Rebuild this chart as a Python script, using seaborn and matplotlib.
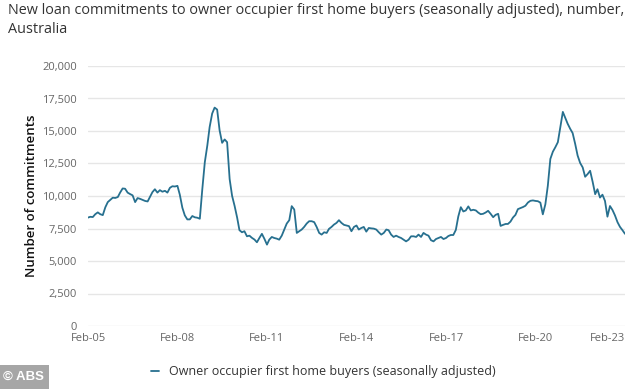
import pandas as pd
import seaborn as sns
import matplotlib.pyplot as plt
import matplotlib.dates as mdates
from matplotlib.ticker import FuncFormatter

# monthly values, Feb-05 to Feb-23
commitments = [
    8340, 8400, 8380, 8600, 8740, 8600, 8530, 9130, 9530, 9700, 9870,
    9850, 9920, 10260, 10580, 10560, 10260, 10150, 10050, 9530, 9840, 9780,
    9700, 9620, 9580, 9920, 10300, 10520, 10260, 10450, 10330, 10400, 10260,
    10630, 10750, 10730, 10780, 10100, 9100, 8510, 8200, 8200, 8460, 8360,
    8330, 8250, 10500, 12600, 13900, 15300, 16340, 16800, 16650, 15050, 14090,
    14350, 14140, 11300, 10010, 9230, 8330, 7370, 7210, 7290, 6900, 6950,
    6780, 6650, 6440, 6780, 7090, 6700, 6260, 6640, 6850, 6770, 6720,
    6640, 6950, 7420, 7880, 8140, 9220, 8960, 7160, 7290, 7420, 7620,
    7880, 8060, 8060, 7990, 7620, 7160, 7030, 7210, 7160, 7470, 7620,
    7800, 7930, 8140, 7930, 7780, 7730, 7680, 7290, 7620, 7730, 7420,
    7540, 7620, 7260, 7540, 7510, 7490, 7420, 7210, 7030, 7160, 7420,
    7370, 7030, 6850, 6950, 6850, 6770, 6640, 6510, 6640, 6900, 6900,
    6850, 7030, 6850, 7160, 7030, 6950, 6600, 6510, 6690, 6770, 6850,
    6690, 6770, 6920, 7000, 7000, 7390, 8420, 9140, 8810, 8890, 9200,
    8890, 8940, 8890, 8730, 8600, 8630, 8730, 8860, 8630, 8370, 8550,
    8630, 7700, 7780, 7850, 7850, 8030, 8340, 8550, 8990, 9070, 9150,
    9250, 9500, 9630, 9660, 9620, 9600, 9490, 8590, 9360, 10780, 12850,
    13410, 13750, 14140, 15300, 16470, 16000, 15560, 15170, 14840, 14010, 13110,
    12540, 12200, 11480, 11690, 11940, 11090, 10140, 10520, 9880, 10100, 9620,
    8410, 9230, 8920, 8510, 7990, 7630, 7370, 7090,
]
months = pd.date_range('2005-02-01', periods=len(commitments), freq='MS')
df = pd.DataFrame({'month': months, 'commitments': commitments})

tick_dates = pd.to_datetime(['2005-02-01', '2008-02-01', '2011-02-01', '2014-02-01',
                             '2017-02-01', '2020-02-01', '2023-02-01'])
y_ticks = [0, 2500, 5000, 7500, 10000, 12500, 15000, 17500, 20000]

sns.set_style('white')
plt.rcParams['font.family'] = ['Open Sans', 'DejaVu Sans']

W, H = 634, 390
fig = plt.figure(figsize=(W / 100, H / 100), dpi=100)
ax = fig.add_axes([88 / W, 1 - 326 / H, (625 - 88) / W, (326 - 66) / H])

sns.lineplot(data=df, x='month', y='commitments', ax=ax, color='#27708f',
             linewidth=1.3, label='Owner occupier first home buyers (seasonally adjusted)')

ax.set_xlim(months[0], months[-1])
ax.set_ylim(0, 20000)
ax.set_yticks(y_ticks)
ax.yaxis.set_major_formatter(FuncFormatter(lambda v, p: f'{int(v):,}'))
ax.set_xticks(tick_dates)
ax.xaxis.set_major_formatter(mdates.DateFormatter('%b-%y'))
ax.grid(axis='y', color='#e6e6e6', linewidth=1)
ax.grid(axis='x', visible=False)
for s in ax.spines.values():
    s.set_visible(False)
ax.tick_params(axis='both', length=0, labelsize=8, labelcolor='#666666')
ax.tick_params(axis='y', pad=8)
ax.tick_params(axis='x', pad=5)
xl = ax.get_xticklabels()
xl[-1].set_horizontalalignment('right')
ax.set_xlabel('')
ax.set_ylabel('Number of commitments', fontsize=9.5, color='#111111',
              fontweight='semibold', labelpad=3)

ax.get_legend().remove()
fig.legend(loc='center', bbox_to_anchor=(0.51, 1 - 372 / H), frameon=False,
           fontsize=9, handlelength=0.7, labelcolor='#333333')

fig.text(8 / W, 1 - 3 / H,
         'New loan commitments to owner occupier first home buyers (seasonally adjusted), number,\nAustralia',
         fontsize=10.35, color='#333333', va='top', ha='left', linespacing=1.35)
fig.text(3 / W, 1 - 377 / H, '© ABS', fontsize=9.5, color='white', fontweight='bold',
         va='center', ha='left', family=['Liberation Sans', 'DejaVu Sans'],
         bbox=dict(facecolor='#a6a6a6', edgecolor='none', pad=4))

fig.savefig('out.png', dpi=100)
